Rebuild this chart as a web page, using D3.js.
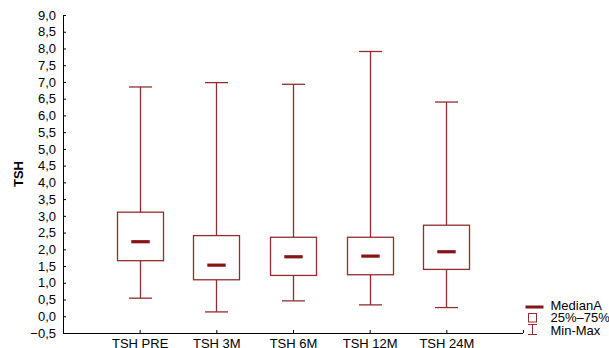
<!DOCTYPE html>
<html><head><meta charset="utf-8">
<script src="https://cdn.jsdelivr.net/npm/d3@7"></script>
<style>body{margin:0;background:#fff}svg{display:block}text{font-family:"Liberation Sans",Arial,sans-serif}</style>
</head><body><svg id="c" width="609" height="348"></svg>
<script>
const categories = ["TSH PRE","TSH 3M","TSH 6M","TSH 12M","TSH 24M"];
const minVals    = [0.54, 0.13, 0.46, 0.34, 0.26];
const q1Vals     = [1.66, 1.09, 1.22, 1.24, 1.40];
const medianVals = [2.23, 1.53, 1.78, 1.80, 1.93];
const q3Vals     = [3.11, 2.41, 2.36, 2.36, 2.72];
const maxVals    = [6.85, 6.98, 6.93, 7.91, 6.40];
const yTicks = d3.range(-0.5, 9.01, 0.5);
const legendLabels = ["MedianA","25%–75%","Min-Max"];

const svg = d3.select("#c");
const mLeft = 63, mRight = 523, mTop = 15, mBottom = 333;
const x = d3.scaleLinear().domain([0, categories.length + 1]).range([mLeft, mRight]);
const y = d3.scaleLinear().domain([-0.5, 9]).range([mBottom, mTop]);
const slot = x(1) - x(0);
const col = "#932d2d", medCol = "#861414";
const fmt = v => d3.format(".1f")(v).replace(".", ",").replace("-", "−");
const FS = 13;

// y axis
const ya = svg.append("g").attr("transform", `translate(${mLeft},0)`)
  .call(d3.axisLeft(y).tickValues(yTicks).tickSize(-3).tickPadding(7).tickFormat(fmt));
ya.select(".domain").attr("d", `M0.5,${mTop}V${mBottom}`).attr("stroke", "#000");
ya.selectAll(".tick line").attr("stroke", "#000");
ya.selectAll(".tick text").attr("font-size", FS).attr("fill", "#000")
  .attr("font-family", '"Liberation Sans",Arial,sans-serif');

// x axis
const xa = svg.append("g").attr("transform", `translate(0,${mBottom})`)
  .call(d3.axisBottom(x).tickValues(d3.range(1, categories.length + 2)).tickSize(-3).tickPadding(6)
    .tickFormat(d => categories[d - 1] || ""));
xa.select(".domain").attr("d", `M${mLeft},0.5H${mRight}`).attr("stroke", "#000");
xa.selectAll(".tick line").attr("stroke", "#000");
xa.selectAll(".tick text").attr("font-size", FS).attr("fill", "#000")
  .attr("font-family", '"Liberation Sans",Arial,sans-serif');

// title
svg.append("text").attr("transform", `translate(23,174) rotate(-90)`)
  .attr("text-anchor", "middle").attr("font-size", FS).attr("font-weight", "bold").text("TSH");

// boxes
const g = svg.append("g");
categories.forEach((c, i) => {
  const cx = Math.round(x(i + 1)) + 0.5;
  const bw = slot * 0.6, cw = slot * 0.3, mw = slot * 0.24;
  g.append("line").attr("x1", cx).attr("x2", cx).attr("y1", y(maxVals[i])).attr("y2", y(q3Vals[i]))
    .attr("stroke", col).attr("stroke-width", 1.3);
  g.append("line").attr("x1", cx).attr("x2", cx).attr("y1", y(q1Vals[i])).attr("y2", y(minVals[i]))
    .attr("stroke", col).attr("stroke-width", 1.3);
  g.append("line").attr("x1", cx - cw / 2).attr("x2", cx + cw / 2).attr("y1", y(maxVals[i])).attr("y2", y(maxVals[i]))
    .attr("stroke", col).attr("stroke-width", 1.3);
  g.append("line").attr("x1", cx - cw / 2).attr("x2", cx + cw / 2).attr("y1", y(minVals[i])).attr("y2", y(minVals[i]))
    .attr("stroke", col).attr("stroke-width", 1.3);
  g.append("rect").attr("x", cx - bw / 2).attr("y", y(q3Vals[i])).attr("width", bw)
    .attr("height", y(q1Vals[i]) - y(q3Vals[i])).attr("fill", "#fff").attr("stroke", col).attr("stroke-width", 1.3);
  g.append("rect").attr("x", cx - mw / 2).attr("y", y(medianVals[i]) - 1.5).attr("width", mw).attr("height", 3.2)
    .attr("fill", medCol);
});

// legend
const lg = svg.append("g");
lg.append("rect").attr("x", 525.5).attr("y", 305.5).attr("width", 18).attr("height", 3).attr("fill", medCol);
lg.append("rect").attr("x", 528.5).attr("y", 313.5).attr("width", 8).attr("height", 8.5)
  .attr("fill", "#fff").attr("stroke", col).attr("stroke-width", 1);
lg.append("path").attr("d", `M528,324.5H537M532.5,324.5V334.5M528,334.5H537`)
  .attr("stroke", col).attr("stroke-width", 1).attr("fill", "none");
legendLabels.forEach((t, i) => {
  lg.append("text").attr("x", 550.5).attr("y", 309.5 + i * 12.5).attr("font-size", FS).attr("fill", "#000").text(t);
});
</script></body></html>
